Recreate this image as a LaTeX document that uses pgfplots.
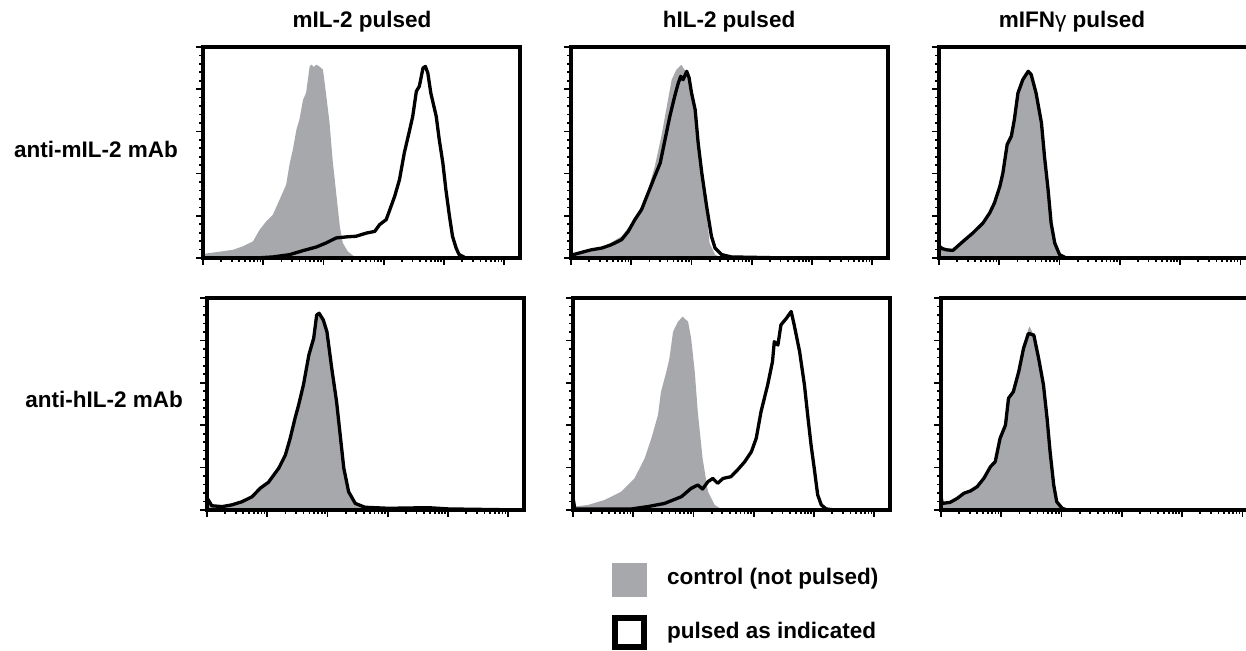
\documentclass[border=0pt]{standalone}
\usepackage{pgfplots}
\pgfplotsset{compat=1.18}
\usepackage{fontspec}
\setmainfont{Liberation Sans}
\definecolor{facsgray}{RGB}{167,168,172}
\pgfplotsset{
  facs/.style={
    scale only axis, width=317pt, height=211pt,
    xmin=0, xmax=5.26, ymin=0, ymax=100,
    axis line style={line width=3pt},
    tick pos=left, tick align=outside,
    major tick length=7pt, minor tick length=4pt,
    every tick/.style={black, line width=1.7pt},
    xtick={0,1,2,3,4,5},
    minor xtick={0.301,0.477,0.602,0.699,0.778,0.845,0.903,0.954,
                 1.301,1.477,1.602,1.699,1.778,1.845,1.903,1.954,
                 2.301,2.477,2.602,2.699,2.778,2.845,2.903,2.954,
                 3.301,3.477,3.602,3.699,3.778,3.845,3.903,3.954,
                 4.301,4.477,4.602,4.699,4.778,4.845,4.903,4.954},
    ytick={0,20,40,60,80,100}, minor y tick num=4,
    xticklabels={}, yticklabels={},
    anchor=south west,
    after end axis/.code={\draw[line width=3.2pt, line join=miter] (rel axis cs:0,0) rectangle (rel axis cs:1,1);},
  },
  ctrl/.style={fill=facsgray, draw=none},
  puls/.style={black, line width=3.3pt, line join=round},
}
\begin{document}
\begin{tikzpicture}
\useasboundingbox (0pt,0pt) rectangle (1246pt,650pt);
\fontsize{22.5}{26}\selectfont\bfseries
% ---------------- row 1 ----------------
\begin{axis}[facs, at={(203pt,392pt)}]
\addplot[ctrl] coordinates {(0,0)(0.005,5.5)(0.02,2)(0.33,3.2)(0.50,3.9)(0.66,5.5)(0.83,7.9)(0.94,13.4)(1.05,17.4)(1.16,20.5)(1.27,27.6)(1.38,34.8)(1.44,45.0)(1.49,51.3)(1.55,60.8)(1.60,65.6)(1.66,75.0)(1.71,78.2)(1.77,90.8)(1.80,91.6)(1.84,90.5)(1.88,91.6)(1.93,90.8)(1.99,89.3)(2.04,78.2)(2.10,64.0)(2.15,46.6)(2.21,30.8)(2.27,15.0)(2.32,7.1)(2.40,3.2)(2.49,1.1)(2.60,0)} \closedcycle;
\addplot[puls] coordinates {(0,1)(0.02,0)(0.88,0)(1.16,0.5)(1.44,1.6)(1.66,3.5)(1.88,5.2)(2.04,7.1)(2.21,9.5)(2.38,10.0)(2.54,10.3)(2.71,11.8)(2.85,12.6)(2.93,15.8)(3.04,18.2)(3.09,22.1)(3.18,29.2)(3.26,37.1)(3.34,49.8)(3.43,60.8)(3.48,67.1)(3.54,79.0)(3.59,81.4)(3.65,90.0)(3.69,90.8)(3.73,87.7)(3.78,78.2)(3.87,67.1)(3.92,56.1)(3.98,45.0)(4.03,32.4)(4.09,19.7)(4.14,10.3)(4.20,4.7)(4.25,1.6)(4.36,0)(5.26,0)};
\end{axis}
\begin{axis}[facs, at={(571pt,392pt)}]
\addplot[ctrl] coordinates {(0,0)(0.01,3)(0.07,1.6)(0.29,2.7)(0.56,5.5)(0.84,10.3)(1.01,16.6)(1.17,24.5)(1.28,32.4)(1.39,43.4)(1.50,57.7)(1.59,71.9)(1.67,84.5)(1.75,89.3)(1.83,91.6)(1.92,87.7)(2.00,79.8)(2.06,67.1)(2.14,48.2)(2.22,29.2)(2.30,7.1)(2.39,1.6)(2.50,0)} \closedcycle;
\addplot[puls] coordinates {(0,2)(0.04,1.6)(0.18,2.7)(0.34,3.9)(0.51,4.7)(0.67,6.3)(0.84,8.7)(0.95,12.6)(1.06,18.2)(1.17,22.9)(1.28,30.8)(1.39,38.7)(1.48,45.0)(1.56,56.1)(1.64,67.1)(1.72,76.6)(1.78,82.9)(1.82,86.1)(1.86,84.5)(1.92,88.5)(1.96,85.3)(2.00,78.2)(2.06,70.3)(2.11,54.5)(2.17,40.3)(2.25,24.5)(2.33,10.3)(2.39,4.7)(2.50,1.6)(2.66,0.5)(3.05,0.3)(3.60,0)(5.26,0)};
\end{axis}
\begin{axis}[facs, at={(939pt,392pt)}]
\addplot[ctrl] coordinates {(0,0)(0.01,5)(0.12,3.6)(0.23,3.4)(0.40,7.6)(0.56,11.5)(0.73,16.3)(0.84,21.0)(0.92,25.8)(1.01,33.7)(1.06,40.0)(1.13,53.0)(1.20,57.0)(1.25,64.8)(1.31,77.0)(1.39,83.5)(1.48,87.5)(1.53,86.5)(1.61,78.0)(1.70,63.8)(1.75,48.0)(1.81,32.2)(1.86,16.4)(1.92,7.0)(2.00,1.5)(2.11,0)} \closedcycle;
\addplot[puls] coordinates {(0,0)(0.01,5.5)(0.05,4.5)(0.12,3.9)(0.23,3.6)(0.40,7.9)(0.56,11.8)(0.73,16.6)(0.84,21.3)(0.92,26.1)(1.01,34.0)(1.06,40.3)(1.13,53.7)(1.20,57.7)(1.25,65.6)(1.31,78.2)(1.39,84.5)(1.48,88.5)(1.53,86.9)(1.61,78.2)(1.70,64.0)(1.75,48.2)(1.81,32.4)(1.86,16.6)(1.92,7.1)(2.00,1.6)(2.11,0)(5.26,0)};
\end{axis}
% ---------------- row 2 ----------------
\begin{axis}[facs, height=212pt, at={(207pt,140pt)}]
\addplot[ctrl] coordinates {(0,0)(0.005,5.5)(0.08,2.0)(0.25,1.6)(0.41,2.4)(0.58,3.9)(0.75,6.3)(0.88,10.2)(1.02,13.1)(1.19,19.7)(1.30,25.9)(1.38,33.8)(1.46,43.2)(1.52,49.5)(1.60,59.0)(1.69,73.1)(1.77,81.0)(1.82,92.0)(1.86,92.5)(1.93,89.6)(1.99,84.1)(2.07,66.8)(2.15,51.1)(2.21,35.4)(2.27,19.7)(2.35,8.6)(2.46,3.1)(2.62,1.3)(3.01,0.8)(3.67,1.0)(4.01,0.4)(4.2,0)} \closedcycle;
\addplot[puls] coordinates {(0,0)(0.005,5.5)(0.08,2.0)(0.25,1.6)(0.41,2.4)(0.58,3.9)(0.75,6.3)(0.88,10.2)(1.02,13.1)(1.19,19.7)(1.30,25.9)(1.38,33.8)(1.46,43.2)(1.52,49.5)(1.60,59.0)(1.69,73.1)(1.77,81.0)(1.82,92.0)(1.86,92.8)(1.93,89.6)(1.99,84.1)(2.07,66.8)(2.15,51.1)(2.21,35.4)(2.27,19.7)(2.35,8.6)(2.46,3.1)(2.62,1.3)(3.01,0.8)(3.67,1.1)(4.01,0.5)(5.26,0)};
\end{axis}
\begin{axis}[facs, height=212pt, at={(573pt,140pt)}]
\addplot[ctrl] coordinates {(0,0)(0.005,6)(0.03,1.6)(0.25,2.4)(0.52,4.7)(0.80,8.6)(1.02,14.9)(1.19,24.4)(1.30,33.8)(1.41,44.8)(1.46,55.8)(1.55,65.3)(1.60,71.5)(1.66,84.1)(1.74,88.8)(1.82,91.2)(1.91,88.8)(1.96,81.0)(2.02,65.3)(2.07,46.4)(2.15,24.4)(2.24,8.6)(2.35,2.4)(2.46,0.5)(2.57,0)} \closedcycle;
\addplot[puls] coordinates {(0,0)(0.005,5)(0.03,0.5)(0.97,0.5)(1.24,1.6)(1.52,3.1)(1.80,6.3)(1.96,10.2)(2.07,11.8)(2.15,9.9)(2.24,13.4)(2.32,14.9)(2.40,12.6)(2.49,14.9)(2.62,15.7)(2.73,18.9)(2.85,22.8)(2.96,27.5)(3.04,33.8)(3.12,46.4)(3.23,59.0)(3.31,70.0)(3.34,79.4)(3.40,77.8)(3.45,87.3)(3.54,90.4)(3.62,93.6)(3.67,87.3)(3.76,74.7)(3.84,59.0)(3.90,43.2)(3.95,30.7)(4.01,18.1)(4.06,7.1)(4.12,2.4)(4.20,0.5)(4.34,0)(5.26,0)};
\end{axis}
\begin{axis}[facs, height=212pt, at={(941pt,140pt)}]
\addplot[ctrl] coordinates {(0,0)(0.005,5.5)(0.02,3.1)(0.15,3.6)(0.27,5.5)(0.38,7.9)(0.49,9.0)(0.60,11.0)(0.71,14.9)(0.82,20.4)(0.90,22.8)(0.98,33.8)(1.07,40.1)(1.12,52.7)(1.20,55.8)(1.29,65.3)(1.37,76.3)(1.45,85.5)(1.47,86.5)(1.54,82.5)(1.62,71.5)(1.70,59.0)(1.76,43.2)(1.81,27.5)(1.87,11.8)(1.92,3.9)(2.01,0.8)(2.09,0)} \closedcycle;
\addplot[puls] coordinates {(0,0)(0.005,5.5)(0.02,3.1)(0.15,3.6)(0.27,5.5)(0.38,7.9)(0.49,9.0)(0.60,11.0)(0.71,14.9)(0.82,20.4)(0.90,22.8)(0.98,33.8)(1.07,40.1)(1.12,52.7)(1.20,55.8)(1.29,65.3)(1.37,76.3)(1.45,83.3)(1.54,82.5)(1.62,71.5)(1.70,59.0)(1.76,43.2)(1.81,27.5)(1.87,11.8)(1.92,3.9)(2.01,0.8)(2.09,0)(5.26,0)};
\end{axis}
% ---------------- titles and labels ----------------
\node[anchor=base] at (362pt,622.3pt) {mIL-2 pulsed};
\node[anchor=base] at (729pt,622.3pt) {hIL-2 pulsed};
\node[anchor=base] at (1072pt,622.3pt) {mIFN{\mdseries γ} pulsed};
\node[anchor=base east, inner sep=0pt] at (178pt,492pt) {anti-mIL-2 mAb};
\node[anchor=base east, inner sep=0pt] at (183pt,242pt) {anti-hIL-2 mAb};
% ---------------- legend ----------------
\fill[facsgray] (612pt,53pt) rectangle (647pt,87pt);
\draw[line width=6pt] (615pt,3pt) rectangle (644pt,32pt);
\node[anchor=base west, inner sep=0pt] at (667pt,66pt) {control (not pulsed)};
\node[anchor=base west, inner sep=0pt] at (667pt,12pt) {pulsed as indicated};
\end{tikzpicture}
\end{document}
